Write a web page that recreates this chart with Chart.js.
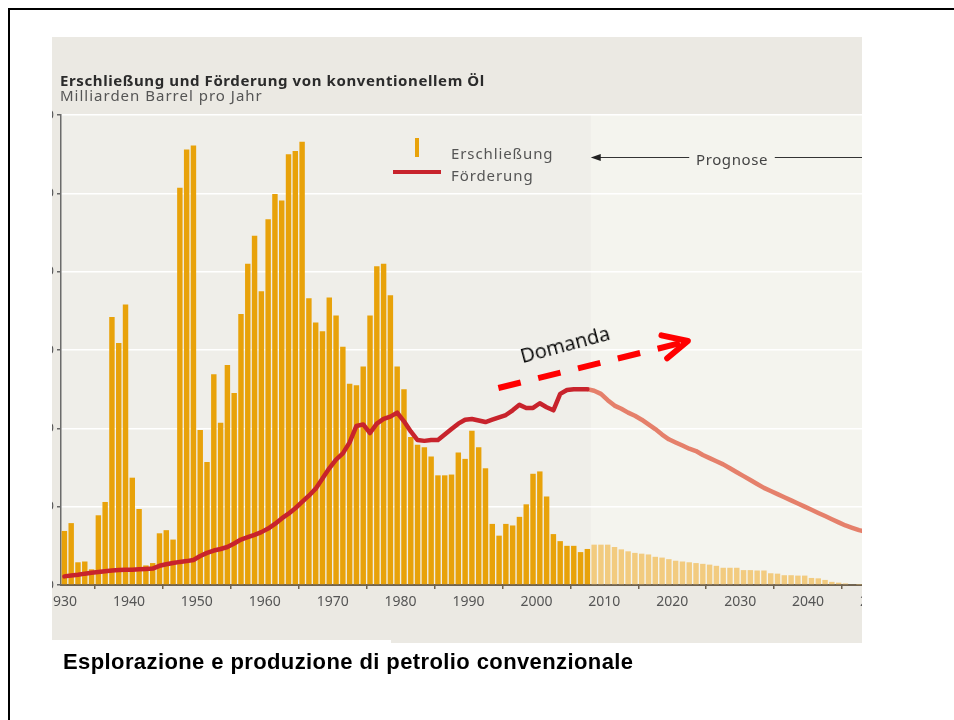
<!DOCTYPE html>
<html>
<head>
<meta charset="utf-8">
<script src="https://cdn.jsdelivr.net/npm/chart.js@4.4.1/dist/chart.umd.min.js"></script>
<style>
  html, body { margin:0; padding:0; background:#fff; }
  body { width:954px; height:720px; position:relative; overflow:hidden; }
  #frame { position:absolute; left:8px; top:8px; width:946px; height:712px; border-left:2px solid #000; border-top:2px solid #000; box-sizing:border-box; }
  #panel { position:absolute; left:52px; top:37px; width:810px; height:606px; overflow:hidden; background:#ebe9e3; }
  #wrap { position:absolute; left:-52px; top:-37px; width:954px; height:720px; }
  .t { position:absolute; white-space:nowrap; line-height:1; }
  #title { left:60px; top:69.5px; font:bold 15px "Noto Sans"; color:#2b2b2b; letter-spacing:0.6px; }
  #subtitle { left:60px; top:84.5px; font:15px "Noto Sans"; color:#555; letter-spacing:1px; }
  .leg { font:15px "Noto Sans"; color:#555; letter-spacing:0.9px; }
  #caption { left:63px; top:648.5px; font:bold 22px "Liberation Sans"; color:#000; letter-spacing:0.4px; }
  #capbox { position:absolute; left:40px; top:640px; width:351px; height:8px; background:#fff; }
  #domanda { left:524px; top:342px; font:20px "Open Sans"; color:#000; transform:rotate(-15deg); transform-origin:0 100%; }
</style>
</head>
<body>
<div id="frame"></div>
<div id="panel"><div id="wrap"><canvas id="c" width="954" height="720"></canvas></div></div>
<div id="capbox"></div>
<div class="t" id="title">Erschließung und Förderung von konventionellem Öl</div>
<div class="t" id="subtitle">Milliarden Barrel pro Jahr</div>
<div class="t leg" style="left:451px; top:143px;">Erschließung</div>
<div class="t leg" style="left:451px; top:165px;">Förderung</div>
<div class="t leg" style="left:696px; top:149px; color:#444; letter-spacing:0.6px;">Prognose</div>
<div class="t" id="domanda">Domanda</div>
<div class="t" id="caption">Esplorazione e produzione di petrolio convenzionale</div>
<div style="position:absolute; left:415px; top:138px; width:4px; height:19px; background:#e8a20a;"></div>
<div style="position:absolute; left:393px; top:170px; width:48px; height:4px; background:#c8232c;"></div>
<script>
// ---- Data (Milliarden Barrel pro Jahr) ----
const histStartYear = 1930;      // first year of historical discovery / production
const forecastStartYear = 2008;  // first forecast year (Prognose)
const discoveryHist = [
  6.9, 7.9, 2.9, 3.0, 2.0, 8.9, 10.6, 34.2, 30.9, 35.8,      // 1930-1939
  13.7, 9.7, 2.5, 2.8, 6.6, 7.0, 5.8, 50.7, 55.6, 56.1,      // 1940-1949
  19.8, 15.7, 26.9, 20.7, 28.1, 24.5, 34.6, 41.0, 44.6, 37.5,// 1950-1959
  46.7, 49.9, 49.1, 55.0, 55.4, 56.6, 36.6, 33.5, 32.4, 36.7,// 1960-1969
  34.4, 30.4, 25.7, 25.5, 27.9, 34.4, 40.7, 41.0, 37.0, 27.9,// 1970-1979
  25.0, 18.9, 17.9, 17.6, 16.4, 14.0, 14.0, 14.1, 16.9, 16.1,// 1980-1989
  19.7, 17.6, 14.9, 7.8, 6.3, 7.8, 7.6, 8.7, 10.3, 14.2,     // 1990-1999
  14.5, 11.3, 6.5, 5.6, 5.0, 5.0, 4.2, 4.6                   // 2000-2007
];
const discoveryForecast = [
  5.15, 5.15, 5.15, 4.85, 4.55, 4.3, 4.1, 4.0, 3.9, 3.6,     // 2008-2017
  3.5, 3.3, 3.1, 3.0, 2.9, 2.8, 2.7, 2.6, 2.45, 2.2,         // 2018-2027
  2.2, 2.2, 1.9, 1.9, 1.85, 1.85, 1.5, 1.45, 1.25, 1.25,     // 2028-2037
  1.2, 1.2, 0.9, 0.85, 0.65, 0.4, 0.3, 0.2, 0.1, 0.05        // 2038-2047
];
const productionHist = [
  1.1, 1.2, 1.3, 1.45, 1.55, 1.65, 1.75, 1.85, 1.9, 1.95,    // 1930-1939
  1.95, 2.0, 2.05, 2.1, 2.45, 2.65, 2.8, 2.95, 3.05, 3.2,    // 1940-1949
  3.7, 4.1, 4.4, 4.6, 4.85, 5.3, 5.8, 6.1, 6.4, 6.75,        // 1950-1959
  7.2, 7.8, 8.5, 9.1, 9.8, 10.6, 11.4, 12.3, 13.6, 14.9,     // 1960-1969
  16.0, 16.8, 18.2, 20.3, 20.5, 19.4, 20.6, 21.2, 21.5, 22.0,// 1970-1979
  20.9, 19.6, 18.5, 18.4, 18.5, 18.5, 19.2, 19.9, 20.6, 21.1,// 1980-1989
  21.2, 21.0, 20.8, 21.1, 21.4, 21.7, 22.3, 23.0, 22.6, 22.6,// 1990-1999
  23.2, 22.7, 22.3, 24.4, 24.9, 25.0, 25.0, 25.0             // 2000-2007
];
const productionForecastStartYear = 2007;
const productionForecast = [
  25.0,                                                       // 2007 (join)
  24.8, 24.4, 23.6, 22.9, 22.5, 22.0, 21.6, 21.1, 20.5, 19.9,// 2008-2017
  19.2, 18.6, 18.2, 17.8, 17.4, 17.1, 16.6, 16.2, 15.8, 15.4,// 2018-2027
  14.9, 14.4, 13.9, 13.4, 12.9, 12.4, 12.0, 11.6, 11.2, 10.8,// 2028-2037
  10.4, 10.0, 9.6, 9.2, 8.8, 8.4, 8.0, 7.6, 7.3, 7.0, 6.8    // 2038-2048
];
const xTickYears = [1930, 1940, 1950, 1960, 1970, 1980, 1990, 2000, 2010, 2020, 2030, 2040, 2050];
const yTicks = [0, 10, 20, 30, 40, 50, 60];
// annotation anchors (data units)
const prognoseLevel = 54.7;
const prognoseTextGap = [2022.5, 2035.1];
const demandArrow = { from: [1994.4, 25.15], to: [2022.3, 31.15] };

// ---- helpers: each value belongs to the year slot [year, year+1] ----
const toPoints = (start, arr) => arr.map((v, i) => ({ x: start + i + 0.5, y: v }));

const bgPlugin = {
  id: 'bg',
  beforeDraw(chart) {
    const { ctx, chartArea: a, scales: { x } } = chart;
    ctx.save();
    ctx.fillStyle = '#efeee9';
    ctx.fillRect(a.left, a.top, a.right - a.left, a.bottom - a.top);
    const fx = x.getPixelForValue(forecastStartYear);
    ctx.fillStyle = '#f4f4ee';
    ctx.fillRect(fx, a.top, a.right - fx, a.bottom - a.top);
    ctx.restore();
  },
  afterDraw(chart) {
    const { ctx, scales: { x, y } } = chart;
    ctx.save();
    // Prognose arrow
    const py = Math.round(y.getPixelForValue(prognoseLevel)) + 0.5;
    const x0 = x.getPixelForValue(forecastStartYear);
    const g0 = x.getPixelForValue(prognoseTextGap[0]);
    const g1 = x.getPixelForValue(prognoseTextGap[1]);
    const xe = x.getPixelForValue(2050);
    ctx.strokeStyle = '#333'; ctx.lineWidth = 1;
    ctx.beginPath(); ctx.moveTo(x0 + 6, py); ctx.lineTo(g0, py); ctx.moveTo(g1, py); ctx.lineTo(xe, py); ctx.stroke();
    ctx.fillStyle = '#222';
    ctx.beginPath(); ctx.moveTo(x0, py); ctx.lineTo(x0 + 10, py - 3.5); ctx.lineTo(x0 + 10, py + 3.5); ctx.closePath(); ctx.fill();
    // Domanda dashed arrow
    const sx = x.getPixelForValue(demandArrow.from[0]), sy = y.getPixelForValue(demandArrow.from[1]);
    const tx = x.getPixelForValue(demandArrow.to[0]), ty = y.getPixelForValue(demandArrow.to[1]);
    ctx.strokeStyle = '#ff0000'; ctx.lineWidth = 6; ctx.lineCap = 'butt';
    ctx.setLineDash([23, 18]);
    ctx.beginPath(); ctx.moveTo(sx, sy); ctx.lineTo(tx - 3, ty + 1); ctx.stroke();
    ctx.setLineDash([]);
    const ang = Math.atan2(sy - ty, sx - tx);
    const L = 27, spread = 26 * Math.PI / 180;
    ctx.lineCap = 'round'; ctx.lineJoin = 'round';
    ctx.beginPath();
    ctx.moveTo(tx + L * Math.cos(ang + spread), ty + L * Math.sin(ang + spread));
    ctx.lineTo(tx, ty);
    ctx.lineTo(tx + L * Math.cos(ang - spread), ty + L * Math.sin(ang - spread));
    ctx.stroke();
    ctx.restore();
  }
};

new Chart(document.getElementById('c'), {
  type: 'bar',
  data: {
    datasets: [
      { type: 'line', label: 'Förderung', data: toPoints(histStartYear, productionHist),
        borderColor: '#c8232c', borderWidth: 4.5, pointRadius: 0, fill: false, order: 0,
        borderJoinStyle: 'round', borderCapStyle: 'round', tension: 0 },
      { type: 'line', label: 'Förderung (Prognose)', data: toPoints(productionForecastStartYear, productionForecast),
        borderColor: '#e5806b', borderWidth: 4.5, pointRadius: 0, fill: false, order: 0,
        borderJoinStyle: 'round', borderCapStyle: 'butt', tension: 0 },
      { label: 'Erschließung', data: toPoints(histStartYear, discoveryHist),
        backgroundColor: '#e8a20a', barPercentage: 0.8, categoryPercentage: 1, grouped: false, order: 1 },
      { label: 'Erschließung (Prognose)', data: toPoints(forecastStartYear, discoveryForecast),
        backgroundColor: '#f2cb7f', barPercentage: 0.8, categoryPercentage: 1, grouped: false, order: 1 }
    ]
  },
  options: {
    responsive: false,
    animation: false,
    layout: { padding: { left: 0, right: 78, top: 115, bottom: 105 } },
    plugins: { legend: { display: false }, tooltip: { enabled: false } },
    scales: {
      x: {
        type: 'linear', min: 1930, max: 2050, offset: false,
        afterBuildTicks: s => { s.ticks = xTickYears.map(v => ({ value: v })); },
        afterFit: s => { s.height = 30; },
        grid: { drawOnChartArea: false, tickLength: 4, tickColor: '#6e6250', lineWidth: 1.5 },
        border: { color: '#6e6250', width: 2 },
        ticks: { color: '#555', padding: 5, maxRotation: 0, autoSkip: false,
                 font: { family: 'Noto Sans', size: 14 }, callback: v => String(v) }
      },
      y: {
        min: 0, max: 60,
        afterBuildTicks: s => { s.ticks = yTicks.map(v => ({ value: v })); },
        afterFit: s => { s.width = 61; },
        grid: { color: '#ffffff', lineWidth: 1.5, tickColor: '#666', tickLength: 4 },
        border: { color: '#6b6b6b', width: 1.5 },
        ticks: { color: '#555', padding: 3, font: { family: 'Noto Sans', size: 13 } }
      }
    }
  },
  plugins: [bgPlugin]
});
</script>
</body>
</html>
